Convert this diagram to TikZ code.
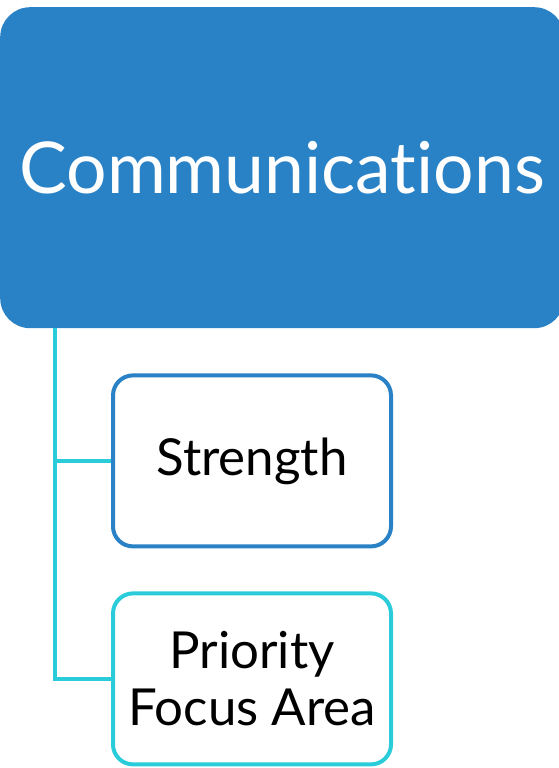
\documentclass[tikz,border=0pt]{standalone}
\usepackage{fontspec}
\setmainfont{Lato}[Ligatures={NoCommon}]
\usepackage{tikz}
\usetikzlibrary{positioning}
\definecolor{headblue}{RGB}{42,130,198}
\definecolor{leafcyan}{RGB}{43,204,217}
\tikzset{
    % Define style for the heading box
    headbox/.style={
           rectangle,
           rounded corners=30pt,
           fill=headblue,
           text=white,
           minimum width=564pt,
           minimum height=321pt,
           font=\fontsize{71.5}{80}\selectfont},
    % Define style for the child boxes
    leafbox/.style={
           rectangle,
           rounded corners=20pt,
           draw, line width=4pt,
           fill=white,
           minimum width=278pt,
           minimum height=171pt,
           align=center,
           font=\fontsize{51}{57}\selectfont},
    % Define style for the tree lines
    trunk/.style={
           draw=leafcyan,
           line width=4pt}
}
\begin{document}
\begin{tikzpicture}[x=1pt, y=-1pt]
         \useasboundingbox (0,0) rectangle (559,768);
         %nodes
          \node[headbox, anchor=north west] (comm) at (0,7) {Communications};
          \node[leafbox, draw=headblue, anchor=north west] (strength)
               at ([xshift=111pt,yshift=-45pt]comm.south west) {Strength};
          \node[leafbox, draw=leafcyan, below=43pt of strength] (priority)
               {Priority\\Focus Area};
         %lines
          \draw[trunk] ([xshift=55pt]comm.south west) |- (priority.west);
          \draw[trunk] ([xshift=55pt]comm.south west) |- (strength.west);
\end{tikzpicture}
\end{document}
